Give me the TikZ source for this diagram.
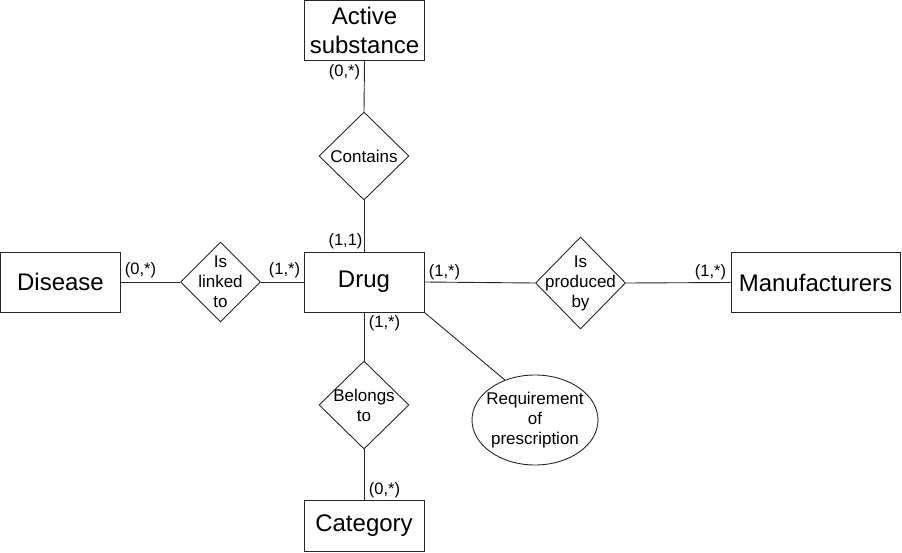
\documentclass[tikz,border=0pt]{standalone}
\usepackage{fontspec}
\setmainfont{Liberation Sans}
\usetikzlibrary{shapes.geometric}
\begin{document}
\begin{tikzpicture}[x=1pt,y=-1pt,line width=0.9pt,draw=black!85,
  entity/.style={draw,rectangle,inner sep=0pt,align=center,font=\fontsize{24}{28.5}\selectfont},
  relation/.style={draw,diamond,inner sep=0pt},
  reltext/.style={align=center,inner sep=0pt,font=\fontsize{17}{20}\selectfont},
  attrib/.style={draw,ellipse,inner sep=0pt},
  card/.style={inner sep=0pt,font=\fontsize{16.5}{19}\selectfont}]
\useasboundingbox (0,0) rectangle (902,553);
% entities
\node[entity,minimum width=120,minimum height=60] (as) at (364.5,30.5) {Active\\substance};
\node[entity,minimum width=120,minimum height=60] (drug) at (364,282) {Drug};
\node[entity,minimum width=120,minimum height=60] (disease) at (60.5,282) {Disease};
\node[entity,minimum width=169,minimum height=60] (manuf) at (815.5,282.5) {Manufacturers};
\node[entity,minimum width=120,minimum height=51] (cat) at (364,525.5) {Category};
% relations
\node[relation,minimum width=90,minimum height=88] (contains) at (364,156) {};
\node[reltext] at (contains) {Contains};
\node[relation,minimum width=80,minimum height=80] (linked) at (220.5,282) {};
\node[reltext] at (linked) {Is\\linked\\to};
\node[relation,minimum width=90,minimum height=92] (produced) at (580.5,283) {};
\node[reltext] at (produced) {Is\\produced\\by};
\node[relation,minimum width=90,minimum height=88] (belongs) at (364,405) {};
\node[reltext] at (belongs) {Belongs\\to};
% attribute
\node[attrib,minimum width=126,minimum height=90] (req) at (535,420) {};
\node[reltext] at (req) {Requirement\\of\\prescription};
% connectors
\draw (as.south) -- (contains.north);
\draw (contains.south) -- (drug.north);
\draw (disease.east) -- (linked.west);
\draw (linked.east) -- (drug.west);
\draw (drug.east) -- (produced.west);
\draw (produced.east) -- (manuf.west);
\draw (drug.south) -- (belongs.north);
\draw (belongs.south) -- (cat.north);
\draw (drug.south east) -- (req.127);
% cardinalities
\node[card] (c1) at (344.5,72) {(0,*)};
\node[card] (c2) at (345.5,241) {(1,1)};
\node[card] (c3) at (140.5,270) {(0,*)};
\node[card] (c4) at (284.5,270) {(1,*)};
\node[card] (c5) at (444.5,272) {(1,*)};
\node[card] (c6) at (710.5,272) {(1,*)};
\node[card] (c7) at (384.5,323) {(1,*)};
\node[card] (c8) at (384.5,490) {(0,*)};
\end{tikzpicture}
\end{document}
